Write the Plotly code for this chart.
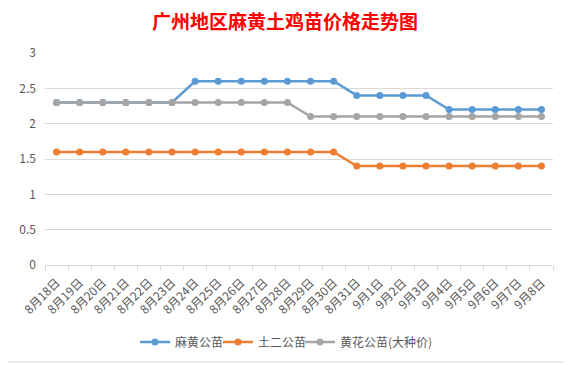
import plotly.graph_objects as go

categories = ["8月18日", "8月19日", "8月20日", "8月21日", "8月22日", "8月23日", "8月24日",
              "8月25日", "8月26日", "8月27日", "8月28日", "8月29日", "8月30日", "8月31日",
              "9月1日", "9月2日", "9月3日", "9月4日", "9月5日", "9月6日", "9月7日", "9月8日"]
mahuang = [2.3, 2.3, 2.3, 2.3, 2.3, 2.3, 2.6, 2.6, 2.6, 2.6, 2.6, 2.6, 2.6,
           2.4, 2.4, 2.4, 2.4, 2.2, 2.2, 2.2, 2.2, 2.2]
tuer = [1.6] * 13 + [1.4] * 9
huanghua = [2.3] * 11 + [2.1] * 11
series_names = ["麻黄公苗", "土二公苗", "黄花公苗(大种价)"]
colors = ["#5B9BD5", "#ED7D31", "#A5A5A5"]
y_ticks = [0, 0.5, 1, 1.5, 2, 2.5, 3]

# page is offset by the 8px default body margin
off = 8
W, H = 571 - off, 365 - off
ml, mt = 45 - off, 53 - off
pw, ph = 508, 212
mr, mb = W - ml - pw, H - mt - ph


def px_x(p):
    return (p - off - ml) / pw


def px_y(p):
    return (mt + ph - (p - off)) / ph


legend_ids = ["legend", "legend2", "legend3"]
legend_left = [135, 218, 300]

fig = go.Figure()
for name, vals, c, lid in zip(series_names, [mahuang, tuer, huanghua], colors, legend_ids):
    fig.add_trace(go.Scatter(x=categories, y=vals, name=name, mode="lines+markers",
                             line=dict(color=c, width=2.5),
                             marker=dict(color=c, size=7), legend=lid))

legend_layout = {}
for lid, lx in zip(legend_ids, legend_left):
    legend_layout[lid] = dict(orientation="h", x=px_x(lx), xanchor="left", y=px_y(342),
                              yanchor="middle", font=dict(size=12, color="#595959"),
                              itemwidth=30, bgcolor="rgba(0,0,0,0)")

fig.update_layout(
    width=W, height=H,
    margin=dict(l=ml, r=mr, t=mt, b=mb, autoexpand=False),
    paper_bgcolor="white", plot_bgcolor="white",
    font=dict(family="Noto Sans CJK SC, sans-serif", size=11, color="#595959"),
    title=dict(text="<b>广州地区麻黄土鸡苗价格走势图</b>", x=(285 - off) / W, xanchor="center",
               y=1 - (22 - off) / H, yanchor="middle",
               font=dict(size=19, color="#FF0000", family="Noto Sans CJK SC, sans-serif")),
    showlegend=True,
    **legend_layout,
    xaxis=dict(type="category", range=[-0.5, len(categories) - 0.5], tickangle=-45,
               showgrid=False, showline=True,
               linecolor="#D9D9D9", linewidth=1, ticks="outside", tickson="boundaries",
               ticklen=5, tickcolor="#D9D9D9", tickfont=dict(size=12, color="#595959"),
               ticklabelstandoff=5, automargin=False, fixedrange=True),
    yaxis=dict(range=[0, 3], tickvals=y_ticks, ticktext=[str(t) for t in y_ticks],
               showgrid=True, gridcolor="#D9D9D9", gridwidth=1, zeroline=False,
               showline=False, ticks="", tickfont=dict(size=12, color="#595959"),
               ticklabelstandoff=8, automargin=False),
    shapes=[dict(type="rect", xref="paper", yref="paper",
                 x0=px_x(3), x1=px_x(568), y0=px_y(362), y1=px_y(2),
                 line=dict(color="#D9D9D9", width=1), layer="below")],
)

fig.write_html("out.html")
